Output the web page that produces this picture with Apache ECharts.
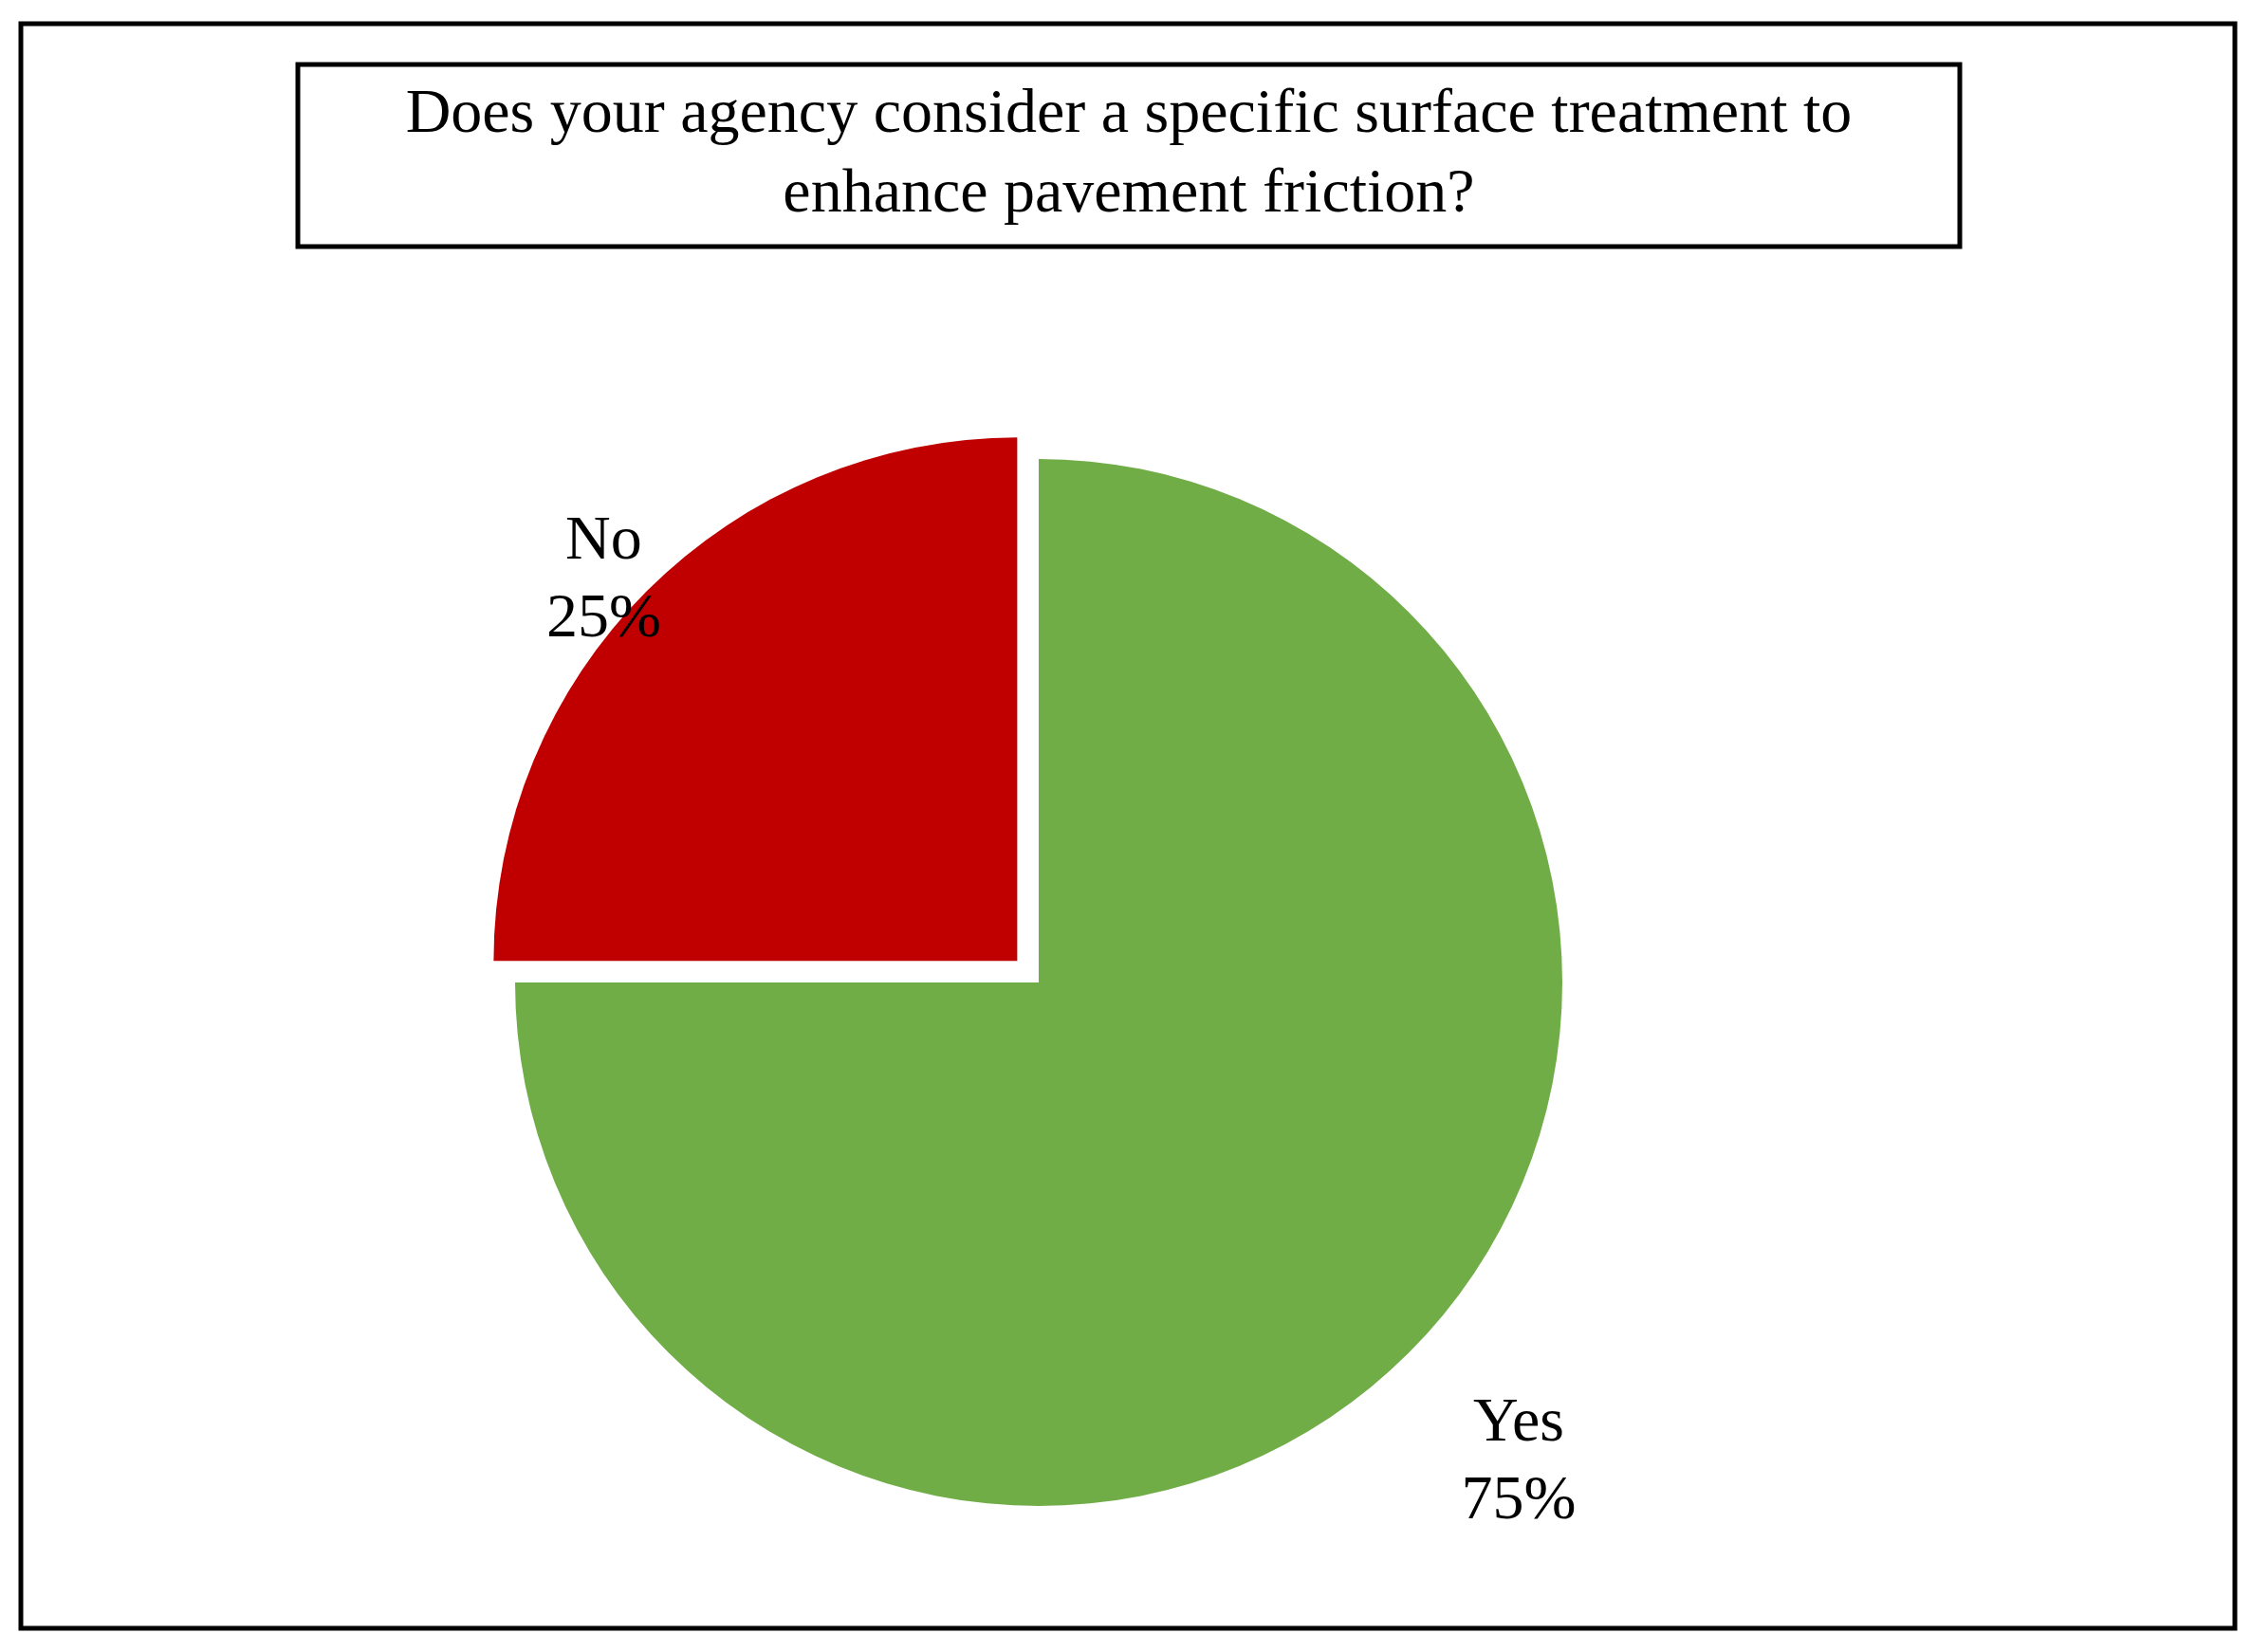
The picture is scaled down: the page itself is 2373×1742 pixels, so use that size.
<!DOCTYPE html>
<html><head><meta charset="utf-8">
<script src="https://cdn.jsdelivr.net/npm/echarts@6/dist/echarts.min.js"></script>
<style>html,body{margin:0;padding:0;background:#fff}#c{width:2373px;height:1742px}</style>
</head><body><div id="c"></div>
<script>
const titleLines = ['Does your agency consider a specific surface treatment to', 'enhance pavement friction?'];
const categories = ['Yes', 'No'];
const values = [75, 25];
const colors = ['#70AD47', '#C00000'];
const font = '"Liberation Serif", "Times New Roman", serif';
const chart = echarts.init(document.getElementById('c'));
chart.setOption({
  backgroundColor: '#fff',
  animation: false,
  graphic: [
    {type:'rect', shape:{x:22,y:25,width:2334,height:1692}, style:{fill:'none',stroke:'#000',lineWidth:5}},
    {type:'rect', shape:{x:314,y:68,width:1752,height:192}, style:{fill:'#fff',stroke:'#000',lineWidth:5}},
    {type:'text', x:1190, y:164, style:{text:titleLines.join('\n'), font:'66px '+font, fill:'#000', align:'center', verticalAlign:'middle', lineHeight:84}}
  ],
  series: [{
    type: 'pie',
    center: [1095, 1036],
    radius: 552,
    startAngle: 90,
    clockwise: true,
    selectedMode: 'multiple',
    selectedOffset: 32,
    data: categories.map((c, i) => ({name: c, value: values[i], selected: c === 'No', itemStyle: {color: colors[i]}})),
    label: {show: true, position: 'outside', formatter: '{b}\n{d}%', fontFamily: font, fontSize: 66, color: '#000', lineHeight: 82, align: 'center'},
    labelLine: {show: false},
    labelLayout: function (p) {
      return p.dataIndex === 0 ? {x: 1601, y: 1543, align: 'center', verticalAlign: 'middle'}
                               : {x: 565, y: 507, align: 'center', verticalAlign: 'middle'};
    },
    emphasis: {disabled: true}
  }]
});
</script></body></html>
